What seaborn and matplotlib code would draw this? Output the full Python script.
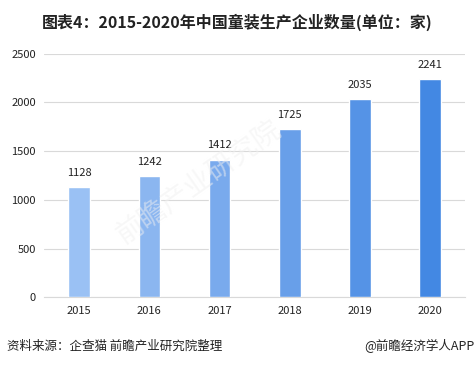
import numpy as np
import pandas as pd
import matplotlib.pyplot as plt
import seaborn as sns

sns.set_style("white")
plt.rcParams["font.family"] = ["Noto Sans CJK SC", "DejaVu Sans"]

years = ["2015", "2016", "2017", "2018", "2019", "2020"]
counts = [1128, 1242, 1412, 1725, 2035, 2241]
bar_colors = ["#9AC1F4", "#8BB6F0", "#79AAED", "#689FE9", "#5593E6", "#4388E3"]

df = pd.DataFrame({"year": years, "count": counts})

fig = plt.figure(figsize=(4.75, 3.66), dpi=100)
ax = fig.add_axes([0.093, 0.188, 0.886, 0.665])

sns.barplot(data=df, x="year", y="count", hue="year", palette=bar_colors,
            saturation=1, width=0.31, legend=False, ax=ax, zorder=3)

for i, v in enumerate(counts):
    ax.text(i, v + 95, str(v), ha="center", va="bottom", fontsize=8, color="#222222")

ax.set_ylim(0, 2500)
ax.set_yticks(range(0, 2501, 500))
ax.set_xlim(-0.5, 5.5)
ax.set_xlabel("")
ax.set_ylabel("")
ax.grid(axis="y", color="#d9d9d9", linewidth=0.8, zorder=0)
for s in ["top", "right", "left"]:
    ax.spines[s].set_visible(False)
ax.spines["bottom"].set_color("#d9d9d9")
ax.tick_params(axis="both", length=0, labelsize=8, colors="#222222", pad=6)

# faint watermark
fig.text(0.42, 0.5, "前瞻产业研究院", fontsize=20, color="#f0f0f0", alpha=0.5,
         rotation=35, ha="center", va="center", zorder=0)

fig.text(0.5, 0.94, "图表4：2015-2020年中国童装生产企业数量(单位：家)",
         ha="center", va="center", fontsize=11.5, fontweight="bold", color="#222222")
fig.text(0.015, 0.055, "资料来源：企查猫 前瞻产业研究院整理",
         ha="left", va="center", fontsize=9, color="#222222")
fig.text(0.998, 0.055, "@前瞻经济学人APP",
         ha="right", va="center", fontsize=9, color="#222222")

fig.savefig("out.png", dpi=100)
